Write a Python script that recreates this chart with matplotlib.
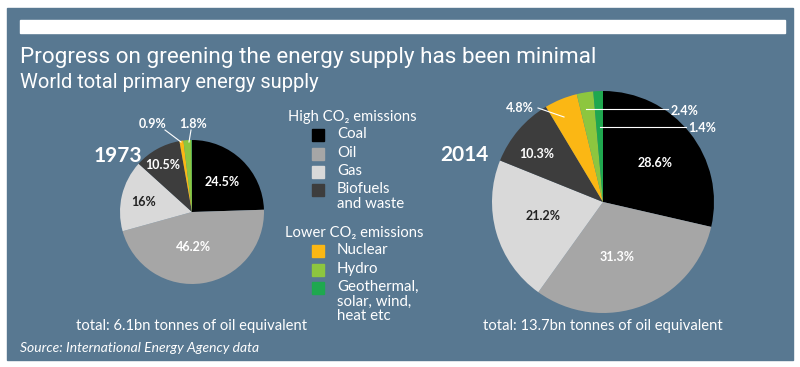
import matplotlib.pyplot as plt
from matplotlib.patches import Rectangle

# Datos
categories = ['Coal', 'Oil', 'Gas', 'Biofuels and waste', 'Nuclear', 'Hydro',
              'Geothermal, solar, wind, heat etc']
share_1973 = [24.5, 46.2, 16, 10.5, 0.9, 1.8, 0.1]
share_2014 = [28.6, 31.3, 21.2, 10.3, 4.8, 2.4, 1.4]
labels_1973 = ['24.5%', '46.2%', '16%', '10.5%', '0.9%', '1.8%', '']
labels_2014 = ['28.6%', '31.3%', '21.2%', '10.3%', '4.8%', '2.4%', '1.4%']
colors = ['#000000', '#a6a6a6', '#d9d9d9', '#3d3d3d', '#fbb714', '#8dc63f', '#1fa84f']
legend_high = ['Coal', 'Oil', 'Gas', 'Biofuels\nand waste']
legend_low = ['Nuclear', 'Hydro', 'Geothermal,\nsolar, wind,\nheat etc']

W, H = 800, 367
BG = '#587891'
FONT = ['Lato', 'DejaVu Sans']
TITLE_FONT = ['Roboto', 'DejaVu Sans']

fig = plt.figure(figsize=(8, 3.67), dpi=100)
ax = fig.add_axes([0, 0, 1, 1])
ax.set_xlim(0, W)
ax.set_ylim(0, H)
ax.set_aspect('equal')
ax.axis('off')


def Y(y):
    # coordenada de pixel (desde arriba) a coordenada del eje
    return H - y


def txt(x, y, s, size=10, color='white', **kw):
    kw.setdefault('family', FONT)
    ax.text(x, Y(y), s, fontsize=size, color=color, va='center', **kw)


# Fondo azul y barra blanca
ax.add_patch(Rectangle((7, Y(360)), 786, 352, color=BG, zorder=0))
ax.add_patch(Rectangle((20, Y(33)), 765, 13, color='white', zorder=1))

txt(20, 58, 'Progress on greening the energy supply has been minimal', size=16.2,
    family=TITLE_FONT)
txt(20, 83, 'World total primary energy supply', size=14.5, family=TITLE_FONT)

# Tartas
ax.pie(share_1973, colors=colors, startangle=90, counterclock=False,
       center=(192, Y(212)), radius=72, frame=True,
       wedgeprops=dict(linewidth=0))
ax.pie(share_2014, colors=colors, startangle=90, counterclock=False,
       center=(603, Y(202)), radius=111, frame=True,
       wedgeprops=dict(linewidth=0))
ax.set_xlim(0, W)
ax.set_ylim(0, H)
ax.axis('off')

txt(118, 156, '1973', size=15, weight='bold', ha='center')
txt(464, 155, '2014', size=15, weight='bold', ha='center')

# Etiquetas 1973
pos_1973 = [(222, 182), (193, 247), (144, 202), (163, 165), (153, 124), (193, 124)]
for (x, y), lab, c in zip(pos_1973, labels_1973, colors):
    col = '#222222' if c == '#d9d9d9' else 'white'
    txt(x, y, lab, size=9, color=col, ha='center', weight='bold')
ax.plot([165, 181], [Y(130), Y(142)], color='white', lw=0.8)
ax.plot([191, 189], [Y(130), Y(142)], color='white', lw=0.8)

# Etiquetas 2014
pos_2014 = [(655, 163), (617, 257), (543, 216), (537, 154), (520, 108), (685, 111), (702, 128)]
for (x, y), lab, c in zip(pos_2014, labels_2014, colors):
    col = '#222222' if c == '#d9d9d9' else 'white'
    txt(x, y, lab, size=9, color=col, ha='center', weight='bold')
ax.plot([538, 564], [Y(108), Y(117)], color='white', lw=0.8)
ax.plot([586, 668], [Y(109), Y(109)], color='white', lw=0.8)
ax.plot([600, 686], [Y(127), Y(127)], color='white', lw=0.8)

# Leyenda
txt(288, 117, 'High CO\u2082 emissions', size=10.6)
ys_high = [135, 154, 172, 190]
for lab, y, c in zip(legend_high, ys_high, colors[:4]):
    ax.add_patch(Rectangle((312, Y(y) - 6), 12, 12, color=c))
    ax.text(337, Y(y) + 8, lab, fontsize=10.8, color='white', va='top',
            family=FONT, linespacing=1.05)
txt(285, 233, 'Lower CO\u2082 emissions', size=10.6)
ys_low = [251, 270, 288]
for lab, y, c in zip(legend_low, ys_low, colors[4:]):
    ax.add_patch(Rectangle((312, Y(y) - 6), 12, 12, color=c))
    ax.text(337, Y(y) + 8, lab, fontsize=10.8, color='white', va='top',
            family=FONT, linespacing=1.05)

txt(192, 326, 'total: 6.1bn tonnes of oil equivalent', size=10.6, ha='center')
txt(603, 326, 'total: 13.7bn tonnes of oil equivalent', size=10.6, ha='center')
txt(20, 348, 'Source: International Energy Agency data', size=10, style='italic')

plt.savefig('out.png', dpi=100, facecolor='white')
